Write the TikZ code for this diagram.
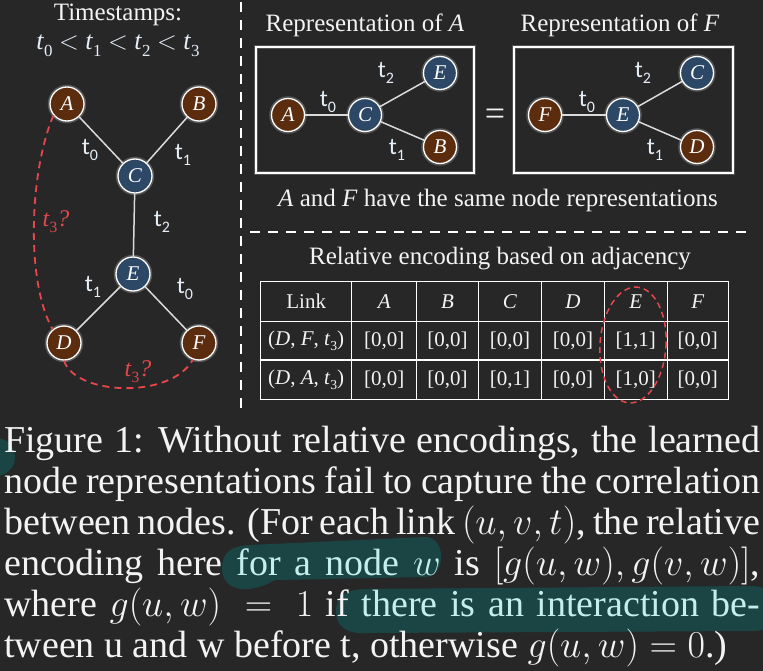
\RequirePackage{fix-cm}
\documentclass[tikz,border=0pt]{standalone}
\usepackage{fontspec}
\setmainfont{Liberation Serif}
\newfontfamily\calfont{Carlito}
\definecolor{bg}{HTML}{272727}
\definecolor{brn}{HTML}{5B2D0E}
\definecolor{blu}{HTML}{2C4866}
\definecolor{edgec}{HTML}{DADADA}
\definecolor{redc}{HTML}{E5474D}
\definecolor{txt}{HTML}{F3F3F3}
\definecolor{tlc}{HTML}{E6EEF8}
\definecolor{hlc}{HTML}{1B4545}
\definecolor{hltxt}{HTML}{C4EDEC}
\newcommand\tsub[1]{\raisebox{-0.28em}{\fontsize{16}{16}\selectfont #1}}
\newcommand\isub[2]{\textit{#1}\raisebox{-0.25em}{\fontsize{0.65em}{0.65em}\selectfont #2}}
\begin{document}
\begin{tikzpicture}[x=1pt,y=-1pt,
  nd/.style={circle, draw=white, line width=1.3pt, inner sep=0pt, minimum size=34pt,
    font=\fontsize{21}{21}\selectfont\itshape, text=white,
    preaction={draw=white, draw opacity=0.22, line width=4.5pt}},
  br/.style={nd, fill=brn},
  bl/.style={nd, fill=blu},
  edge/.style={draw=edgec, line width=1.5pt},
  tlab/.style={font=\calfont\fontsize{24}{24}\selectfont, text=tlc, inner sep=0pt},
  ttl/.style={font=\fontsize{25}{25}\selectfont, text=txt, inner sep=0pt},
  redlab/.style={font=\fontsize{24}{24}\selectfont, text=redc, inner sep=0pt},
  reddash/.style={draw=redc, line width=1.8pt, dash pattern=on 7pt off 5pt},
  sepline/.style={draw=white, line width=2.4pt, dash pattern=on 10pt off 8pt},
  box/.style={draw=white, line width=1.3pt, preaction={draw=white, draw opacity=0.2, line width=4pt}},
  tbl/.style={draw=white, line width=1.3pt},
  tcell/.style={font=\fontsize{21}{21}\selectfont, text=txt, inner sep=0pt},
  captxt/.style={font=\fontsize{38}{40}\selectfont, text=txt, inner sep=0pt, anchor=base west}
]
\useasboundingbox (0,0) rectangle (763,671);
\fill[bg] (0,0) rectangle (763,671);

% caption highlights
\begin{scope}
\clip (0,0) rectangle (763,671);
\fill[hlc] (-4,457) circle (19pt);
\fill[hlc] (222,568) .. controls (222,552) and (232,546) .. (250,545) -- (425,537)
  .. controls (446,536) and (447,577) .. (425,577) -- (275,580)
  .. controls (250,595) and (222,592) .. (222,568) -- cycle;
\fill[hlc] (336,612) .. controls (336,596) and (345,590) .. (365,589) -- (750,586)
  .. controls (765,586) and (768,590) .. (768,600) -- (768,622)
  .. controls (768,630) and (762,631) .. (750,631) -- (370,633)
  .. controls (350,635) and (336,628) .. (336,612) -- cycle;
\end{scope}

% separators
\draw[sepline] (241,2) -- (241,410);
\draw[sepline] (250,232) -- (748,232);

% left graph
\node[ttl] (ts) at (118,15) {Timestamps:};
\node[ttl, text=tlc, font=\fontsize{26}{26}\selectfont] (tord) at (118,46) {\isub{t}{0} $<$ \isub{t}{1} $<$ \isub{t}{2} $<$ \isub{t}{3}};
\node[br] (A) at (67,104) {A};
\node[br] (B) at (199,104) {B};
\node[bl] (C) at (135,176) {C};
\node[bl] (E) at (133,274) {E};
\node[br] (D) at (64,343) {D};
\node[br] (F) at (199,343) {F};
\draw[edge] (A) -- (C);
\draw[edge] (B) -- (C);
\draw[edge] (C) -- (E);
\draw[edge] (E) -- (D);
\draw[edge] (E) -- (F);
\node[tlab] (l1) at (90,150) {t\tsub{0}};
\node[tlab] (l2) at (183,155) {t\tsub{1}};
\node[tlab] (l3) at (162,222) {t\tsub{2}};
\node[tlab] (l4) at (93,287) {t\tsub{1}};
\node[tlab] (l5) at (185,289) {t\tsub{0}};
\draw[reddash] (A.220) .. controls (30,170) and (25,280) .. (D.130);
\draw[reddash] (D.-90) .. controls (75,395) and (170,400) .. (F.250);
\node[redlab] (q1) at (56,222) {\isub{t}{3}\textit{?}};
\node[redlab] (q2) at (138,372) {\isub{t}{3}\textit{?}};

% representation boxes
\node[ttl] (rA) at (365,25) {Representation of \textit{A}};
\node[ttl] (rF) at (620,25) {Representation of \textit{F}};
\draw[box] (256,47) rectangle (474,173);
\draw[box] (514,47) rectangle (733,173);
\node[ttl, font=\fontsize{36}{36}\selectfont] (eq) at (495,117) {=};

\node[br, minimum size=33pt] (a1) at (288,115) {A};
\node[bl, minimum size=33pt] (c1) at (365,115) {C};
\node[bl, minimum size=33pt] (e1) at (440,73) {E};
\node[br, minimum size=33pt] (b1) at (440,147) {B};
\draw[edge] (a1) -- (c1);
\draw[edge] (c1) -- (e1);
\draw[edge] (c1) -- (b1);
\node[tlab] (m1) at (328,102) {t\tsub{0}};
\node[tlab] (m2) at (386,73) {t\tsub{2}};
\node[tlab] (m3) at (397,150) {t\tsub{1}};

\node[br, minimum size=33pt] (f2) at (545,115) {F};
\node[bl, minimum size=33pt] (e2) at (623,115) {E};
\node[bl, minimum size=33pt] (c2) at (697,73) {C};
\node[br, minimum size=33pt] (d2) at (697,147) {D};
\draw[edge] (f2) -- (e2);
\draw[edge] (e2) -- (c2);
\draw[edge] (e2) -- (d2);
\node[tlab] (n1) at (587,102) {t\tsub{0}};
\node[tlab] (n2) at (643,73) {t\tsub{2}};
\node[tlab] (n3) at (655,150) {t\tsub{1}};

\node[ttl] (same) at (498,200) {\textit{A} and \textit{F} have the same node representations};

% table
\node[ttl] (rel) at (500,259) {Relative encoding based on adjacency};
\draw[tbl] (260.7,281.7) rectangle (728.3,399.3);
\draw[tbl] (260.7,321.7) -- (728.3,321.7);
\draw[tbl] (260.7,360) -- (728.3,360);
\foreach \xx in {351.7,416.7,478.3,541.7,604.3,667.3}
  \draw[tbl] (\xx,281.7) -- (\xx,399.3);
\node[tcell] (h0) at (306.2,301.7) {Link};
\node[tcell] (h1) at (384.2,301.7) {\textit{A}};
\node[tcell] (h2) at (447.5,301.7) {\textit{B}};
\node[tcell] (h3) at (510,301.7) {\textit{C}};
\node[tcell] (h4) at (573,301.7) {\textit{D}};
\node[tcell] (h5) at (635.8,301.7) {\textit{E}};
\node[tcell] (h6) at (697.8,301.7) {\textit{F}};
\node[tcell] (r10) at (306.2,340.9) {(\textit{D}, \textit{F}, \isub{t}{3})};
\node[tcell] (r11) at (384.2,340.9) {[0,0]};
\node[tcell] (r12) at (447.5,340.9) {[0,0]};
\node[tcell] (r13) at (510,340.9) {[0,0]};
\node[tcell] (r14) at (573,340.9) {[0,0]};
\node[tcell] (r15) at (635.8,340.9) {[1,1]};
\node[tcell] (r16) at (697.8,340.9) {[0,0]};
\node[tcell] (r20) at (306.2,379.7) {(\textit{D}, \textit{A}, \isub{t}{3})};
\node[tcell] (r21) at (384.2,379.7) {[0,0]};
\node[tcell] (r22) at (447.5,379.7) {[0,0]};
\node[tcell] (r23) at (510,379.7) {[0,1]};
\node[tcell] (r24) at (573,379.7) {[0,0]};
\node[tcell] (r25) at (635.8,379.7) {[1,0]};
\node[tcell] (r26) at (697.8,379.7) {[0,0]};
\draw[reddash, line width=1.5pt, dash pattern=on 6pt off 4pt, rotate around={-4:(633,345)}] (633,345) ellipse [x radius=33pt, y radius=58pt];

% caption
\node[captxt] (cl1) at (4,452) {\makebox[756pt][s]{Figure 1: Without relative encodings, the learned}};
\node[captxt] (cl2) at (4,493) {\makebox[756pt][s]{node representations fail to capture the correlation}};
\node[captxt] (cl3) at (4,534) {\makebox[756pt][s]{between nodes. (For each link $(u,v,t)$, the relative}};
\node[captxt] (cl4) at (4,575) {\makebox[756pt][s]{encoding here \textcolor{hltxt}{for a node $w$} is $[g(u,w),g(v,w)]$,}};
\node[captxt] (cl5) at (4,616) {\makebox[756pt][s]{where $g(u,w)\,=\,1$ if \textcolor{hltxt}{there is an interaction be-}}};
\node[captxt] (cl6) at (4,657) {tween u and w before t, otherwise $g(u,w)=0$.)};
\end{tikzpicture}
\end{document}
